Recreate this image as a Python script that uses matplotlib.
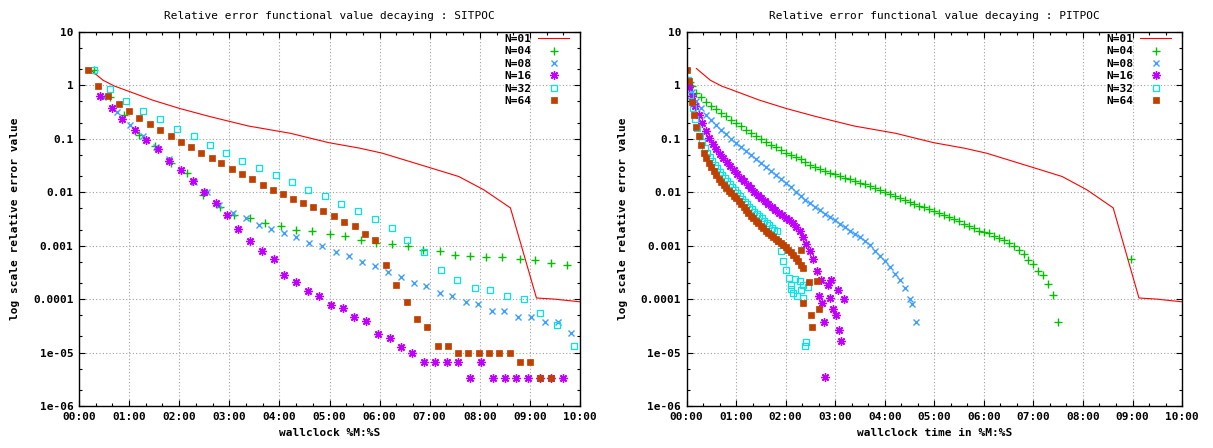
import matplotlib
matplotlib.use("Agg")
import matplotlib.pyplot as plt
from matplotlib.ticker import FuncFormatter, MultipleLocator, LogLocator, NullFormatter

# ---- data (x in minutes of wallclock, y = relative error) ----
# N=01 is the same reference run in both panels
n01_t = [0.2, 0.48, 0.71, 1.02, 1.47, 2.01, 2.62, 3.38, 4.22, 4.98, 5.6, 6.05, 7.05, 7.58,
         8.08, 8.61, 9.13, 9.49, 10.0]
n01_v = [2.07, 1.25, 0.97, 0.76, 0.53, 0.37, 0.26, 0.174, 0.127, 0.085, 0.067, 0.054, 0.028,
         0.0197, 0.0111, 0.0051, 1.05e-4, 1.0e-4, 8.9e-5]

# SITPOC
s04_t = [0.3, 0.61, 0.9, 1.2, 1.515, 1.83, 2.16, 2.48, 2.82, 3.1, 3.41, 3.72, 4.03, 4.34, 4.65,
         5.0, 5.31, 5.63, 5.93, 6.25, 6.56, 6.87, 7.2, 7.51, 7.81, 8.13, 8.44, 8.8, 9.11, 9.43, 9.74]
s04_v = [1.98, 0.61, 0.28, 0.116, 0.072, 0.036, 0.0229, 0.0089, 0.0053, 0.0038, 0.0033, 0.0027,
         0.00236, 0.002, 0.00188, 0.00163, 0.00149, 0.00129, 0.00112, 0.00109, 9.7e-4, 8.4e-4,
         8.0e-4, 6.8e-4, 6.4e-4, 6.1e-4, 6.1e-4, 5.6e-4, 5.4e-4, 4.7e-4, 4.4e-4]

s08_t = [0.48, 0.75, 1.02, 1.27, 1.54, 1.79, 2.04, 2.3, 2.55, 2.8, 3.07, 3.33, 3.59, 3.84, 4.09,
         4.33, 4.6, 4.85, 5.13, 5.39, 5.65, 5.91, 6.17, 6.42, 6.69, 6.93, 7.21, 7.45, 7.72, 7.97,
         8.25, 8.49, 8.77, 9.03, 9.3, 9.56, 9.82]
s08_v = [0.61, 0.32, 0.185, 0.112, 0.0716, 0.0417, 0.026, 0.0158, 0.01, 0.0058, 0.0041, 0.0033,
         0.00245, 0.00204, 0.0017, 0.00145, 0.00112, 9.7e-4, 7.6e-4, 6.5e-4, 4.9e-4, 4.1e-4,
         3.2e-4, 2.6e-4, 2.0e-4, 1.75e-4, 1.31e-4, 1.15e-4, 8.9e-5, 8.1e-5, 6.1e-5, 5.9e-5,
         4.7e-5, 4.7e-5, 3.8e-5, 3.8e-5, 2.3e-5]

s16_t = [0.42, 0.66, 0.86, 1.12, 1.34, 1.58, 1.79, 2.03, 2.28, 2.49, 2.73, 2.96, 3.18, 3.41,
         3.66, 3.9, 4.1, 4.33, 4.58, 4.8, 5.03, 5.27, 5.49, 5.73, 5.96, 6.2, 6.43, 6.65, 6.88,
         7.11, 7.34, 7.56, 7.8, 8.03, 8.27, 8.5, 8.73, 8.97, 9.2, 9.43, 9.66]
s16_v = [0.624, 0.384, 0.239, 0.147, 0.0944, 0.0633, 0.0384, 0.0261, 0.016, 0.01, 0.00624,
         0.00378, 0.00205, 0.00124, 8.1e-4, 5.6e-4, 2.8e-4, 2.1e-4, 1.41e-4, 1.12e-4, 7.8e-5,
         6.9e-5, 4.6e-5, 3.9e-5, 2.26e-5, 1.9e-5, 1.28e-5, 1.0e-5, 6.67e-6, 6.67e-6, 6.67e-6,
         6.67e-6, 3.33e-6, 6.67e-6, 3.33e-6, 3.33e-6, 3.33e-6, 3.33e-6, 3.33e-6, 3.33e-6, 3.33e-6]

s32_t = [0.3, 0.62, 0.94, 1.28, 1.615, 1.95, 2.29, 2.62, 2.94, 3.26, 3.59, 3.93, 4.26, 4.57,
         4.9, 5.23, 5.57, 5.91, 6.25, 6.55, 6.89, 7.22, 7.55, 7.9, 8.21, 8.54, 8.88, 9.2, 9.54, 9.87]
s32_v = [1.93, 0.84, 0.51, 0.333, 0.232, 0.156, 0.115, 0.077, 0.054, 0.0389, 0.0288, 0.0207,
         0.0156, 0.0112, 0.00855, 0.00615, 0.00449, 0.00314, 0.00216, 0.00129, 7.7e-4, 3.57e-4,
         2.32e-4, 1.6e-4, 1.47e-4, 1.12e-4, 1.0e-4, 5.4e-5, 3.3e-5, 1.3e-5]

s64_t = [0.19, 0.385, 0.58, 0.8, 1.0, 1.2, 1.41, 1.615, 1.83, 2.03, 2.23, 2.44, 2.645, 2.84,
         3.05, 3.26, 3.455, 3.67, 3.87, 4.08, 4.28, 4.47, 4.67, 4.87, 5.09, 5.29, 5.5, 5.71,
         5.91, 6.12, 6.33, 6.54, 6.74, 6.95, 7.16, 7.37, 7.57, 7.77, 7.99, 8.18, 8.39, 8.6,
         8.8, 9.0, 9.21, 9.42]
s64_v = [1.93, 0.97, 0.64, 0.455, 0.333, 0.246, 0.193, 0.147, 0.114, 0.0867, 0.069, 0.054,
         0.0443, 0.0347, 0.0272, 0.0216, 0.0175, 0.0137, 0.0112, 0.0093, 0.0075, 0.00624,
         0.00525, 0.00437, 0.00352, 0.00276, 0.00229, 0.00165, 0.00126, 4.4e-4, 1.82e-4,
         8.7e-5, 4.24e-5, 2.96e-5, 1.33e-5, 1.33e-5, 1.0e-5, 1.0e-5, 1.0e-5, 1.0e-5, 1.0e-5,
         1.0e-5, 6.67e-6, 6.67e-6, 3.33e-6, 3.33e-6]

# PITPOC
p04_t = [0.06, 0.1, 0.2, 0.3, 0.4, 0.5, 0.6, 0.7, 0.8, 0.9, 1.0, 1.1, 1.2, 1.3, 1.4, 1.5, 1.6,
         1.7, 1.8, 1.9, 2.0, 2.1, 2.2, 2.3, 2.4, 2.5, 2.6, 2.7, 2.8, 2.9, 3.0, 3.1, 3.2, 3.3,
         3.4, 3.5, 3.6, 3.7, 3.8, 3.9, 4.0, 4.1, 4.2, 4.3, 4.4, 4.5, 4.6, 4.7, 4.8, 4.9, 5.0,
         5.1, 5.2, 5.3, 5.4, 5.5, 5.6, 5.7, 5.8, 5.9, 6.0, 6.1, 6.2, 6.3, 6.4, 6.5, 6.6, 6.7,
         6.8, 6.9, 7.0, 7.1, 7.2, 7.3, 7.4, 7.5, 8.97]
p04_v = [1.17, 0.96, 0.73, 0.60, 0.494, 0.42, 0.359, 0.307, 0.264, 0.227, 0.196, 0.171, 0.149,
         0.130, 0.114, 0.100, 0.088, 0.0778, 0.069, 0.0612, 0.0546, 0.0497, 0.0452, 0.0411,
         0.0369, 0.033, 0.0295, 0.0269, 0.025, 0.0233, 0.0217, 0.0201, 0.0187, 0.0174, 0.0162,
         0.0152, 0.0142, 0.0131, 0.0121, 0.0112, 0.0103, 0.0094, 0.0086, 0.0079, 0.0072, 0.0066,
         0.0061, 0.0056, 0.0052, 0.0048, 0.0044, 0.0041, 0.0037, 0.0034, 0.0031, 0.0029, 0.0026,
         0.0023, 0.0021, 0.0019, 0.0018, 0.0017, 0.00155, 0.0014, 0.00129, 0.00111, 0.00097,
         0.00084, 0.00069, 0.00054, 0.00045, 0.00034, 0.00028, 0.00019, 0.00012, 3.8e-5, 5.6e-4]

p08_t = [0.05, 0.1, 0.2, 0.3, 0.4, 0.5, 0.6, 0.7, 0.8, 0.9, 1.0, 1.1, 1.2, 1.3, 1.4, 1.5, 1.6,
         1.7, 1.8, 1.9, 2.0, 2.1, 2.2, 2.3, 2.4, 2.5, 2.6, 2.7, 2.8, 2.9, 3.0, 3.1, 3.2, 3.3,
         3.4, 3.5, 3.6, 3.7, 3.8, 3.9, 4.0, 4.1, 4.2, 4.3, 4.4, 4.5, 4.55, 4.63]
p08_v = [0.9, 0.76, 0.52, 0.373, 0.276, 0.223, 0.18, 0.147, 0.121, 0.0998, 0.0826, 0.0695,
         0.0585, 0.0493, 0.0415, 0.035, 0.0295, 0.0248, 0.0209, 0.0176, 0.0148, 0.0123, 0.0102,
         0.0085, 0.0073, 0.0063, 0.0054, 0.0046, 0.004, 0.0034, 0.0030, 0.0026, 0.0022, 0.0019,
         0.00167, 0.00144, 0.00123, 0.00102, 0.00081, 0.00065, 0.00051, 0.0004, 0.0003,
         0.000224, 0.000162, 0.000102, 8.1e-5, 3.8e-5]

p16_t = [0.04, 0.11, 0.18, 0.25, 0.32, 0.39, 0.46, 0.53, 0.60, 0.67, 0.74, 0.81, 0.88, 0.95,
         1.02, 1.09, 1.16, 1.23, 1.30, 1.37, 1.44, 1.51, 1.58, 1.65, 1.72, 1.79, 1.86, 1.93,
         2.00, 2.07, 2.14, 2.21, 2.28, 2.35, 2.42, 2.49, 2.56, 2.63,
         2.71, 2.91, 2.86, 3.05, 2.68, 2.9, 3.18, 2.73, 2.95, 3.01, 2.78, 3.08, 3.11, 2.8]
p16_v = [0.95, 0.645, 0.41, 0.276, 0.194, 0.139, 0.1016, 0.081, 0.0647, 0.0525, 0.044, 0.037,
         0.031, 0.026, 0.0219, 0.0187, 0.016, 0.0138, 0.0119, 0.0103, 0.009, 0.00785, 0.00684,
         0.00604, 0.00534, 0.00472, 0.00418, 0.00375, 0.00336, 0.00301, 0.00264, 0.00222,
         0.00187, 0.00147, 0.00109, 0.0008, 0.00057, 0.00034,
         2.32e-4, 2.32e-4, 1.87e-4, 1.51e-4, 1.14e-4, 1.03e-4, 9.9e-5, 8.3e-5, 6.5e-5, 5.0e-5,
         3.7e-5, 2.7e-5, 1.66e-5, 3.5e-6]

p32_t = [0.02, 0.07, 0.12, 0.17, 0.22, 0.27, 0.32, 0.37, 0.42, 0.47, 0.52, 0.57, 0.62, 0.67,
         0.72, 0.77, 0.82, 0.87, 0.92, 0.97, 1.02, 1.07, 1.12, 1.17, 1.22, 1.27, 1.32, 1.37,
         1.42, 1.47, 1.52, 1.57, 1.62, 1.67, 1.72, 1.77, 1.82,
         1.85, 1.9, 1.95, 2.01, 2.06, 2.1, 2.11, 2.15, 2.18, 2.23, 2.28, 2.31, 2.35, 2.35, 2.46,
         2.41, 2.40]
p32_v = [1.26, 0.655, 0.385, 0.238, 0.163, 0.114, 0.0873, 0.0686, 0.0543, 0.0457, 0.0385,
         0.0325, 0.028, 0.0243, 0.021, 0.0182, 0.016, 0.0141, 0.0125, 0.011, 0.0097, 0.0086,
         0.0076, 0.0067, 0.006, 0.0054, 0.0048, 0.0043, 0.0039, 0.00356, 0.00324, 0.00294,
         0.00267, 0.00242, 0.00219, 0.002, 0.00186,
         1.2e-3, 8.0e-4, 5.1e-4, 3.5e-4, 2.5e-4, 1.55e-4, 1.87e-4, 1.32e-4, 2.34e-4, 1.14e-4,
         2.16e-4, 1.47e-4, 1.8e-4, 1.06e-4, 1.7e-4, 1.58e-5, 1.33e-5]

p64_t = [0.01, 0.05, 0.10, 0.15, 0.20, 0.25, 0.30, 0.35, 0.40, 0.45, 0.50, 0.55, 0.60, 0.65,
         0.70, 0.75, 0.80, 0.85, 0.90, 0.95, 1.00, 1.05, 1.10, 1.15, 1.20, 1.25, 1.30, 1.35,
         1.40, 1.45, 1.50, 1.55, 1.60, 1.65, 1.70, 1.75, 1.80, 1.85, 1.90, 1.95, 2.00, 2.05,
         2.10, 2.15, 2.20, 2.25, 2.30, 2.35,
         2.31, 2.48, 2.63, 2.35, 2.67, 2.52, 2.54]
p64_v = [1.93, 1.2, 0.495, 0.279, 0.17, 0.111, 0.0778, 0.0548, 0.0443, 0.0357, 0.0293, 0.0247,
         0.0208, 0.0176, 0.0155, 0.0137, 0.0121, 0.0107, 0.0096, 0.0086, 0.0077, 0.0068, 0.006,
         0.0053, 0.0047, 0.0041, 0.0036, 0.00326, 0.00293, 0.00263, 0.00237, 0.00213, 0.00192,
         0.00176, 0.00161, 0.00147, 0.00134, 0.00123, 0.00112, 0.00103, 0.00093, 0.00084,
         0.00075, 0.00067, 0.00059, 0.00051, 0.00044, 0.00038,
         8.2e-4, 2.07e-4, 2.2e-4, 8.3e-5, 6.5e-5, 5.0e-5, 3.05e-5]

labels = ["N=01", "N=04", "N=08", "N=16", "N=32", "N=64"]
colors = ["#ff0000", "#00c000", "#3f9fff", "#c000ff", "#00e5e5", "#c04000"]

MONO = "DejaVu Sans Mono"
FS = 8


def mmss(m, pos):
    s = int(round(m * 60))
    return "%02d:%02d" % (s // 60, s % 60)


def panel(ax, title, xlabel, s04, s08, s16, s32, s64):
    ax.plot(n01_t, n01_v, color=colors[0], lw=0.8, label=labels[0])
    ax.plot(*s04, ls="none", marker="+", ms=5.5, mew=1.0, color=colors[1], label=labels[1])
    ax.plot(*s08, ls="none", marker="x", ms=5, mew=1.0, color=colors[2], label=labels[2])
    ax.plot(*s16, ls="none", marker=(8, 2, 0), ms=6, mew=1.0, color=colors[3], label=labels[3])
    ax.plot(*s32, ls="none", marker="s", ms=5, mew=0.9, mfc="none", color=colors[4], label=labels[4])
    ax.plot(*s64, ls="none", marker="s", ms=5, mew=0.5, color=colors[5], label=labels[5])

    ax.set_yscale("log")
    ax.set_xlim(0, 10)
    ax.set_ylim(1e-6, 10)
    ax.xaxis.set_major_locator(MultipleLocator(1))
    ax.xaxis.set_minor_locator(MultipleLocator(1 / 3))
    ax.xaxis.set_major_formatter(FuncFormatter(mmss))
    ax.xaxis.set_minor_formatter(NullFormatter())
    ax.yaxis.set_major_locator(LogLocator(base=10, numticks=20))
    ax.yaxis.set_minor_locator(LogLocator(base=10, subs=(2, 5), numticks=20))
    ax.yaxis.set_minor_formatter(NullFormatter())
    ax.yaxis.set_major_formatter(FuncFormatter(lambda v, p: "%g" % v))

    ax.grid(True, which="major", color="#a0a0a0", lw=0.8, ls=(0, (1, 2)))
    ax.tick_params(which="both", direction="in", top=True, right=True, width=0.8)
    ax.tick_params(which="major", length=4.5, pad=4)
    ax.tick_params(which="minor", length=2.5)
    for lab in ax.get_xticklabels() + ax.get_yticklabels():
        lab.set_fontfamily(MONO)
        lab.set_fontweight("bold")
        lab.set_fontsize(FS)
    for sp in ax.spines.values():
        sp.set_linewidth(1.0)

    ax.set_title(title, family=MONO, fontsize=FS, pad=9)
    ax.set_xlabel(xlabel, family=MONO, fontsize=FS, fontweight="bold")
    ax.set_ylabel("log scale relative error value", family=MONO, fontsize=FS, fontweight="bold")
    ax.xaxis.set_label_coords(0.5, -0.058)
    ax.yaxis.set_label_coords(-0.118, 0.5)

    w = ax.get_position().width * 1213
    leg = ax.legend(loc="upper right", bbox_to_anchor=(1 - 11 / w, 1 - 2 / 374),
                    frameon=False, markerfirst=False,
                    prop={"family": MONO, "weight": "bold", "size": FS},
                    handlelength=2.8, handletextpad=0.55, labelspacing=0.22,
                    borderaxespad=0, borderpad=0)
    return leg


fig = plt.figure(figsize=(12.13, 4.48), dpi=100)
ax1 = fig.add_axes([0.0651, 0.0938, 0.4131, 0.8348])
ax2 = fig.add_axes([0.566, 0.0938, 0.4085, 0.8348])

panel(ax1, "Relative error functional value decaying : SITPOC", "wallclock %M:%S",
      (s04_t, s04_v), (s08_t, s08_v), (s16_t, s16_v), (s32_t, s32_v), (s64_t, s64_v))
panel(ax2, "Relative error functional value decaying : PITPOC", "wallclock time in %M:%S",
      (p04_t, p04_v), (p08_t, p08_v), (p16_t, p16_v), (p32_t, p32_v), (p64_t, p64_v))

fig.savefig("out.png", dpi=100)
